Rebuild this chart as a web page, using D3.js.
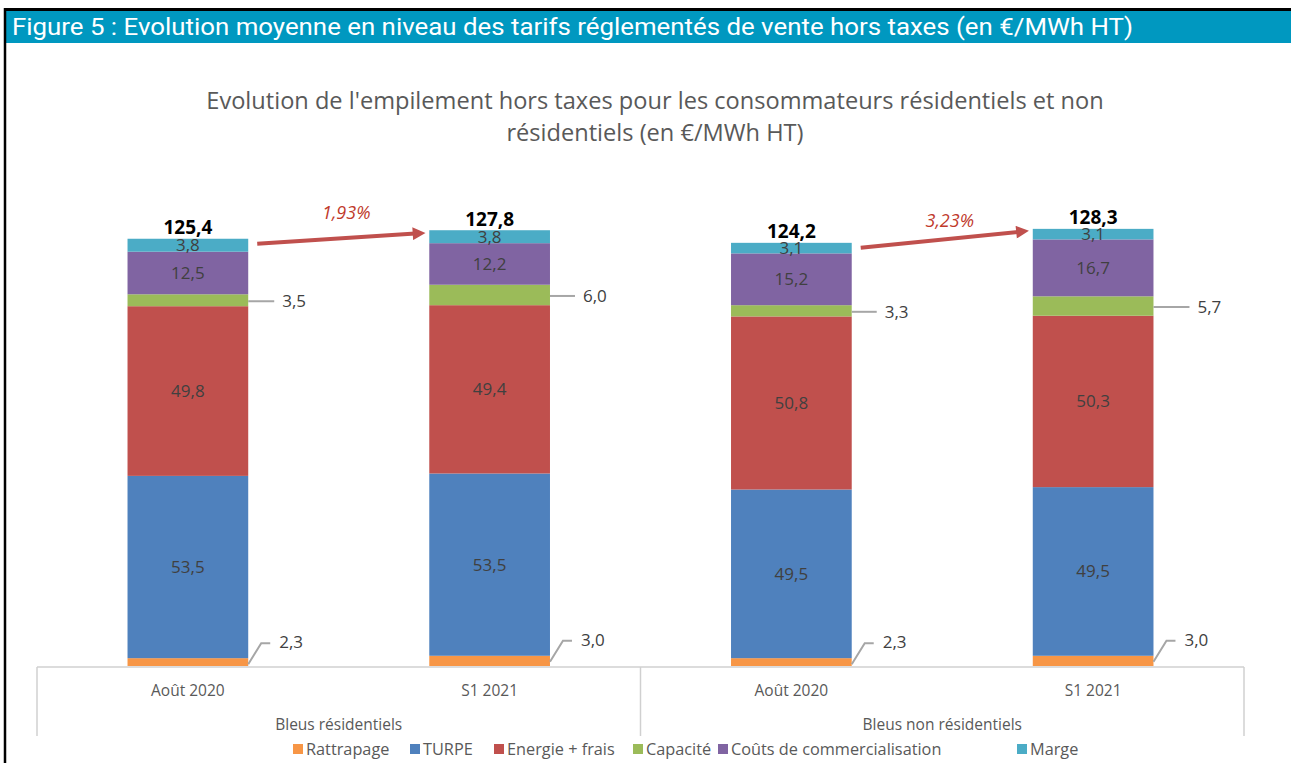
<!DOCTYPE html>
<html>
<head>
<meta charset="utf-8">
<script src="https://cdn.jsdelivr.net/npm/d3@7"></script>
<style>
  body { margin: 0; background: #fff; }
  svg text { font-family: "Open Sans", Lato, sans-serif; }
</style>
</head>
<body>
<div id="chart"></div>
<script>
// Data
const periods = ["Août 2020", "S1 2021", "Août 2020", "S1 2021"];
const groupNames = ["Bleus résidentiels", "Bleus non résidentiels"];
const seriesNames = ["Rattrapage", "TURPE", "Energie + frais", "Capacité", "Coûts de commercialisation", "Marge"];
const rattrapage = [2.3, 3.0, 2.3, 3.0];
const turpe = [53.5, 53.5, 49.5, 49.5];
const energie = [49.8, 49.4, 50.8, 50.3];
const capacite = [3.5, 6.0, 3.3, 5.7];
const couts = [12.5, 12.2, 15.2, 16.7];
const marge = [3.8, 3.8, 3.1, 3.1];
const totals = [125.4, 127.8, 124.2, 128.3];
const changes = ["1,93%", "3,23%"];

const colors = ["#f79646", "#4f81bd", "#c0504d", "#9bbb59", "#8064a2", "#4bacc6"];
const fmt = v => d3.format(".1f")(v).replace(".", ",");

function chart(width, height, selector) {
  const values = [rattrapage, turpe, energie, capacite, couts, marge];
  const rows = periods.map((p, i) => {
    const r = { key: i };
    seriesNames.forEach((s, j) => r[s] = values[j][i]);
    return r;
  });
  const stacked = d3.stack().keys(seriesNames)(rows);

  const svg = d3.select(selector).append("svg")
    .attr("width", width).attr("height", height);

  // header bar
  svg.append("rect").attr("x", 5).attr("y", 10).attr("width", width).attr("height", 33).attr("fill", "#0098c0");
  svg.append("line").attr("x1", 4).attr("x2", width).attr("y1", 9.5).attr("y2", 9.5).attr("stroke", "#000").attr("stroke-width", 3);
  svg.append("line").attr("x1", 5).attr("x2", 5).attr("y1", 8).attr("y2", height).attr("stroke", "#000").attr("stroke-width", 2.5);
  svg.append("text").attr("x", 12).attr("y", 35)
    .style("font-family", "Roboto, sans-serif")
    .attr("font-size", 23).attr("fill", "#fff")
    .attr("textLength", 1121).attr("lengthAdjust", "spacingAndGlyphs")
    .text("Figure 5 : Evolution moyenne en niveau des tarifs réglementés de vente hors taxes (en €/MWh HT)");

  // title
  const title = svg.append("text").attr("text-anchor", "middle").attr("fill", "#595959").attr("font-size", 23.6);
  title.append("tspan").attr("x", 655).attr("y", 109).text("Evolution de l'empilement hors taxes pour les consommateurs résidentiels et non");
  title.append("tspan").attr("x", 655).attr("y", 141).text("résidentiels (en €/MWh HT)");

  const x = d3.scaleBand().domain(d3.range(periods.length)).range([37, 1244])
    .paddingInner(0.6).paddingOuter(0.3);
  const y = d3.scaleLinear().domain([0, 140]).range([666, 189]);

  // bars
  const layers = svg.append("g").selectAll("g").data(stacked).join("g")
    .attr("fill", (d, i) => colors[i]);
  layers.selectAll("rect").data(d => d).join("rect")
    .attr("x", (d, i) => x(i))
    .attr("width", x.bandwidth())
    .attr("y", d => y(d[1]))
    .attr("height", d => y(d[0]) - y(d[1]));

  // inside labels
  stacked.forEach((layer, j) => {
    if (j === 0 || j === 3) return;
    svg.append("g").selectAll("text").data(layer).join("text")
      .attr("x", (d, i) => x(i) + x.bandwidth() / 2)
      .attr("y", d => (y(d[0]) + y(d[1])) / 2 + 6)
      .attr("text-anchor", "middle").attr("font-size", 17).attr("fill", "#404040")
      .text((d, i) => fmt(values[j][i]));
  });

  // Capacité leader labels
  const capLen = [26, 25, 25, 36];
  stacked[3].forEach((d, i) => {
    const yy = (y(d[0]) + y(d[1])) / 2 + 1;
    const x0 = x(i) + x.bandwidth();
    svg.append("line").attr("x1", x0).attr("x2", x0 + capLen[i]).attr("y1", yy).attr("y2", yy)
      .attr("stroke", "#a6a6a6").attr("stroke-width", 2);
    svg.append("text").attr("x", x0 + capLen[i] + 8).attr("y", yy + 6)
      .attr("font-size", 17).attr("fill", "#404040").text(fmt(capacite[i]));
  });

  // Rattrapage leader labels
  stacked[0].forEach((d, i) => {
    const x0 = x(i) + x.bandwidth();
    const y0 = y(d[1]) + 4;
    const y1 = y0 - 19;
    svg.append("path")
      .attr("d", `M${x0},${y0 + 2}L${x0 + 13},${y1}L${x0 + 22},${y1}`)
      .attr("fill", "none").attr("stroke", "#a6a6a6").attr("stroke-width", 2);
    svg.append("text").attr("x", x0 + 31).attr("y", y1 + 5)
      .attr("font-size", 17).attr("fill", "#404040").text(fmt(rattrapage[i]));
  });

  // totals
  svg.append("g").selectAll("text").data(totals).join("text")
    .attr("x", (d, i) => x(i) + x.bandwidth() / 2)
    .attr("y", d => y(d) - 5)
    .attr("text-anchor", "middle").attr("font-size", 19).attr("font-weight", "bold").attr("fill", "#000")
    .text(d => fmt(d));

  // arrows
  svg.append("defs").append("marker")
    .attr("id", "arrowhead").attr("viewBox", "0 0 10 10").attr("refX", 2).attr("refY", 5)
    .attr("markerWidth", 3.6).attr("markerHeight", 3.2).attr("orient", "auto")
    .append("path").attr("d", "M0,0L10,5L0,10Z").attr("fill", "#c0504d");
  const pctDy = [-20, -13];
  changes.forEach((c, k) => {
    const a = 2 * k, b = 2 * k + 1;
    const x1 = x(a) + x.bandwidth() + 9, y1 = y(totals[a]) + 5;
    const x2 = x(b) - 14, y2 = y(totals[b]) + 3;
    svg.append("line").attr("x1", x1).attr("y1", y1).attr("x2", x2).attr("y2", y2)
      .attr("stroke", "#c0504d").attr("stroke-width", 4).attr("marker-end", "url(#arrowhead)");
    svg.append("text").attr("x", (x1 + x2) / 2 + 10).attr("y", (y1 + y2) / 2 + pctDy[k])
      .attr("text-anchor", "middle").attr("font-size", 18).attr("font-style", "italic").attr("fill", "#c0392b")
      .text(c);
  });

  // axis
  const axis = svg.append("g").attr("stroke", "#d0d0d0").attr("stroke-width", 1.5);
  axis.append("line").attr("x1", 37).attr("x2", 1244).attr("y1", 667).attr("y2", 667);
  [37, 640.5, 1244].forEach(xx => {
    axis.append("line").attr("x1", xx).attr("x2", xx).attr("y1", 667).attr("y2", 736);
  });
  svg.append("g").selectAll("text").data(periods).join("text")
    .attr("x", (d, i) => x(i) + x.bandwidth() / 2).attr("y", 696)
    .attr("text-anchor", "middle").attr("font-size", 15.5).attr("fill", "#595959")
    .text(d => d);
  svg.append("g").selectAll("text").data(groupNames).join("text")
    .attr("x", (d, i) => (x(2 * i) + x(2 * i + 1) + x.bandwidth()) / 2)
    .attr("y", 730)
    .attr("text-anchor", "middle").attr("font-size", 15.5).attr("fill", "#595959")
    .text(d => d);

  // legend
  const legendX = [293, 410, 494, 633, 718, 1017];
  const lg = svg.append("g").selectAll("g").data(seriesNames).join("g")
    .attr("transform", (d, i) => `translate(${legendX[i]},749)`);
  lg.append("rect").attr("x", 0).attr("y", -5).attr("width", 10).attr("height", 10)
    .attr("fill", (d, i) => colors[i]);
  lg.append("text").attr("x", 13).attr("y", 5.5).attr("font-size", 16.3).attr("fill", "#595959").text(d => d);
}

chart(1291, 763, "#chart");
</script>
</body>
</html>
